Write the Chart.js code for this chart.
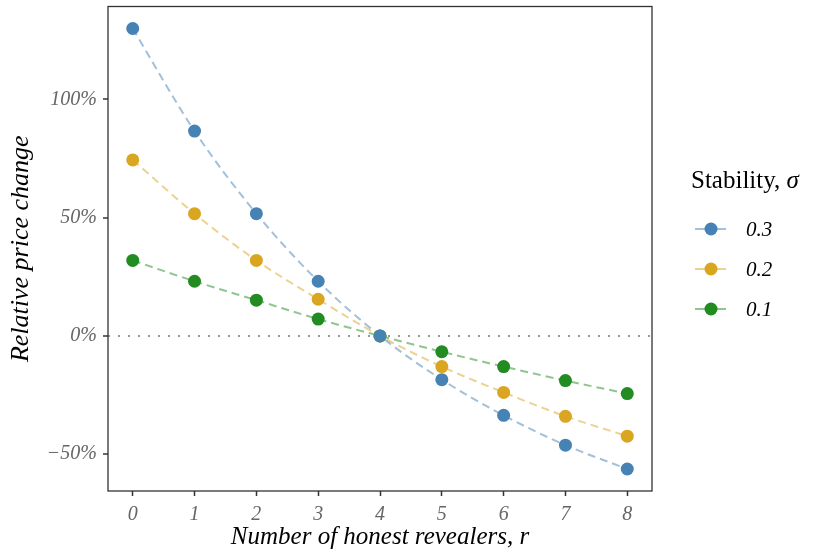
<!DOCTYPE html>
<html>
<head>
<meta charset="utf-8">
<script src="https://cdn.jsdelivr.net/npm/chart.js@4"></script>
<style>
  body { margin: 0; background: #fff; }
  #wrap { position: relative; width: 818px; height: 552px; }
</style>
</head>
<body>
<div id="wrap"><canvas id="grafica" width="818" height="552"></canvas></div>
<script>
// revelers r = 0..8
const revelers = [0, 1, 2, 3, 4, 5, 6, 7, 8];
// relative price change (%) for each stability level
const sigma03 = [130, 86.6, 51.7, 23.1, 0, -18.5, -33.6, -46.2, -56.3];
const sigma02 = [74.4, 51.7, 31.9, 15.5, 0, -13.0, -23.9, -34.0, -42.4];
const sigma01 = [31.9, 23.1, 15.1, 7.1, 0, -6.7, -13.0, -18.9, -24.4];
const stabilityLabels = ['0.3', '0.2', '0.1'];
const yTicks = [-50, 0, 50, 100];

const colores = ['#4682B4', '#DAA520', '#228B22'];
const coloresLinea = ['rgba(70,130,180,0.5)', 'rgba(218,165,32,0.5)', 'rgba(34,139,34,0.5)'];
const series = [sigma03, sigma02, sigma01];

const serif = '"Liberation Serif", "DejaVu Serif", serif';

function puntos(valores) {
    return revelers.map((r, i) => ({ x: r, y: valores[i] }));
}

const datasets = [];
// dashed lines go underneath every point
series.forEach((valores, i) => {
    datasets.push({
        label: stabilityLabels[i],
        data: puntos(valores),
        borderColor: coloresLinea[i],
        borderWidth: 2,
        borderDash: [8, 5],
        pointRadius: 0,
        cubicInterpolationMode: 'monotone',
        fill: false,
        order: 10 + i
    });
});
series.forEach((valores, i) => {
    datasets.push({
        label: stabilityLabels[i],
        data: puntos(valores),
        showLine: false,
        backgroundColor: colores[i],
        borderColor: colores[i],
        borderWidth: 0,
        pointRadius: 6.5,
        order: i
    });
});

// panel border + legend on the right
const panelYLeyenda = {
    id: 'panelYLeyenda',
    afterDraw(chart) {
        const c = chart.ctx;
        const a = chart.chartArea;
        c.save();
        c.strokeStyle = '#333333';
        c.lineWidth = 1.3;
        c.setLineDash([]);
        c.strokeRect(a.left, a.top, a.right - a.left, a.bottom - a.top);

        // legend title
        c.fillStyle = '#000';
        c.textBaseline = 'alphabetic';
        c.textAlign = 'left';
        c.font = '25px ' + serif;
        const titulo = 'Stability, ';
        c.fillText(titulo, 691, 188);
        const w = c.measureText(titulo).width;
        c.font = 'italic 25px ' + serif;
        c.fillText('σ', 691 + w, 188);

        stabilityLabels.forEach((lab, i) => {
            const y = 229 + i * 40;
            c.strokeStyle = coloresLinea[i];
            c.lineWidth = 2;
            c.beginPath();
            c.moveTo(695, y);
            c.lineTo(726, y);
            c.stroke();
            c.fillStyle = colores[i];
            c.beginPath();
            c.arc(711, y, 6.5, 0, Math.PI * 2);
            c.fill();
            c.fillStyle = '#000';
            c.font = 'italic 21px ' + serif;
            c.textBaseline = 'middle';
            c.fillText(lab, 746, y + 1);
        });
        c.restore();
    }
};

new Chart(document.getElementById('grafica').getContext('2d'), {
    type: 'line',
    data: { datasets: datasets },
    plugins: [panelYLeyenda],
    options: {
        responsive: false,
        animation: false,
        layout: { padding: { top: 5, right: 166, left: 0, bottom: 0 } },
        plugins: {
            legend: { display: false },
            tooltip: { enabled: false }
        },
        scales: {
            x: {
                type: 'linear',
                min: -0.4,
                max: 8.4,
                afterBuildTicks: scale => { scale.ticks = revelers.map(v => ({ value: v })); },
                afterFit: scale => {
                    scale.height = 61;
                    scale.paddingLeft = 0;
                    scale.paddingRight = 0;
                },
                grid: { drawOnChartArea: false, drawTicks: true, tickLength: 5, tickColor: '#333', tickWidth: 1.5 },
                border: { display: false },
                ticks: {
                    color: '#666',
                    padding: 7,
                    maxRotation: 0,
                    font: { family: serif, style: 'italic', size: 20 }
                },
                title: {
                    display: true,
                    text: 'Number of honest revealers, r',
                    color: '#000',
                    padding: { top: 0, bottom: 0 },
                    font: { family: serif, style: 'italic', size: 25 }
                }
            },
            y: {
                min: -65.6,
                max: 139.3,
                afterBuildTicks: scale => { scale.ticks = yTicks.map(v => ({ value: v })); },
                afterFit: scale => {
                    scale.width = 108;
                    scale.paddingTop = 0;
                    scale.paddingBottom = 0;
                },
                grid: {
                    color: ctx => (ctx.tick && ctx.tick.value === 0 ? '#999999' : 'rgba(0,0,0,0)'),
                    lineWidth: 2,
                    drawTicks: true,
                    tickLength: 5,
                    tickColor: '#333',
                    tickWidth: 1.5,
                    tickBorderDash: []
                },
                border: { display: false, dash: [2, 8] },
                ticks: {
                    color: '#666',
                    padding: 6,
                    font: { family: serif, style: 'italic', size: 20 },
                    callback: v => (v < 0 ? '\u2212' + Math.abs(v) : v) + '%'
                },
                title: {
                    display: true,
                    text: 'Relative price change',
                    color: '#000',
                    padding: { top: 6, bottom: 0 },
                    font: { family: serif, style: 'italic', size: 26 }
                }
            }
        }
    }
});
</script>
</body>
</html>
